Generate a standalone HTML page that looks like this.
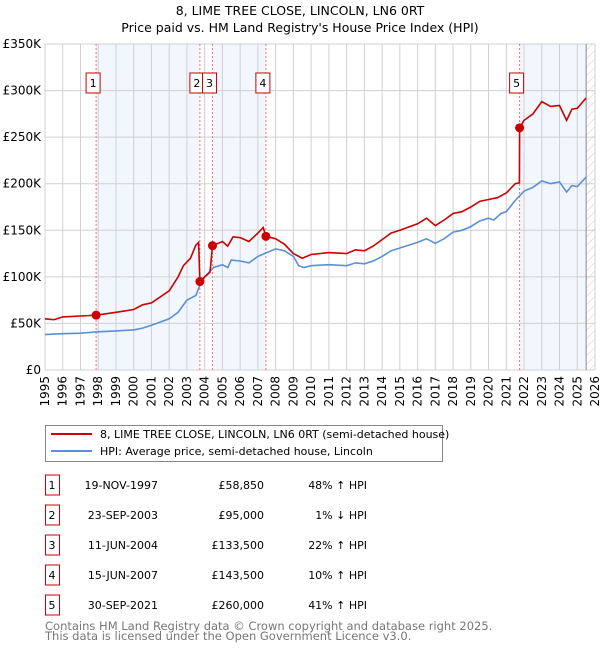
<!DOCTYPE html>
<html><head><meta charset="utf-8"><style>
body{margin:0;background:#fff;width:600px;height:650px;overflow:hidden;font-family:"DejaVu Sans","Liberation Sans",sans-serif;}
svg text{font-family:"DejaVu Sans","Liberation Sans",sans-serif;}
</style></head><body>
<svg id="chart" width="600" height="650" xmlns="http://www.w3.org/2000/svg">
<text x="300" y="15" text-anchor="middle" font-size="12.5">8, LIME TREE CLOSE, LINCOLN, LN6 0RT</text>
<text x="300" y="32" text-anchor="middle" font-size="12.5">Price paid vs. HM Land Registry's House Price Index (HPI)</text>
<g id="bands"></g>
<g id="grid"></g>
<g id="series"></g>
<g id="axes"></g>
<g id="legend">
<rect x="45.5" y="425.5" width="397" height="36" fill="#fff" stroke="#888"/>
<line x1="51" y1="434" x2="92" y2="434" stroke="#cc0000" stroke-width="2"/>
<text x="100" y="438" font-size="11">8, LIME TREE CLOSE, LINCOLN, LN6 0RT (semi-detached house)</text>
<line x1="51" y1="451" x2="92" y2="451" stroke="#5b8fd6" stroke-width="2"/>
<text x="100" y="455" font-size="11">HPI: Average price, semi-detached house, Lincoln</text>
</g>
<g id="table"></g>
<text x="45" y="630" font-size="11.5" fill="#777">Contains HM Land Registry data © Crown copyright and database right 2025.</text>
<text x="45" y="640" font-size="11.5" fill="#777">This data is licensed under the Open Government Licence v3.0.</text>
</svg>
<script>
const hpiYears=[1995,1995.5,1996,1997,1998,1999,2000,2000.5,2001,2002,2002.5,2003,2003.5,2003.8,2004,2004.5,2005,2005.3,2005.5,2006,2006.5,2007,2007.5,2008,2008.5,2009,2009.3,2009.6,2010,2011,2012,2012.5,2013,2013.5,2014,2014.5,2015,2016,2016.5,2017,2017.5,2018,2018.5,2019,2019.5,2020,2020.3,2020.7,2021,2021.5,2022,2022.5,2023,2023.5,2024,2024.4,2024.7,2025,2025.5];
const hpiValues=[38000,38500,39000,39500,41000,42000,43000,45000,48000,55000,62000,75000,80000,94000,100000,110000,113000,110000,118000,117000,115000,122000,126000,130000,128000,122000,112000,110000,112000,113000,112000,115000,114000,117000,122000,128000,131000,137000,141000,136000,141000,148000,150000,154000,160000,163000,161000,168000,170000,182000,192000,196000,203000,200000,202000,191000,198000,197000,207000];
const priceYears=[1995,1995.5,1996,1997,1997.88,1999,2000,2000.5,2001,2002,2002.5,2002.8,2003.2,2003.5,2003.66,2003.73,2004,2004.3,2004.44,2005,2005.3,2005.6,2006,2006.5,2007,2007.3,2007.45,2008,2008.5,2009,2009.5,2010,2011,2012,2012.5,2013,2013.5,2014,2014.5,2015,2016,2016.5,2017,2017.5,2018,2018.5,2019,2019.5,2020,2020.5,2021,2021.5,2021.74,2021.75,2022,2022.5,2023,2023.5,2024,2024.4,2024.7,2025,2025.5];
const priceValues=[55000,54000,57000,58000,58850,62000,65000,70000,72000,85000,100000,112000,120000,134000,137000,95000,100000,105000,133500,138000,133000,143000,142000,138000,147000,153000,143500,141000,135000,125000,120000,124000,126000,125000,129000,128000,133000,140000,147000,150000,157000,163000,155000,161000,168000,170000,175000,181000,183000,185000,190000,200000,201000,260000,268000,275000,288000,283000,284000,268000,280000,281000,292000];
const saleDates=[1997.88,2003.73,2004.44,2007.45,2021.75];
const salePrices=[58850,95000,133500,143500,260000];
const saleLabels=["1","2","3","4","5"];
const saleDateText=["19-NOV-1997","23-SEP-2003","11-JUN-2004","15-JUN-2007","30-SEP-2021"];
const salePriceText=["£58,850","£95,000","£133,500","£143,500","£260,000"];
const saleHpiText=["48% ↑ HPI","1% ↓ HPI","22% ↑ HPI","10% ↑ HPI","41% ↑ HPI"];
const yTicks=[0,50000,100000,150000,200000,250000,300000,350000];
const yTickLabels=["£0","£50K","£100K","£150K","£200K","£250K","£300K","£350K"];
const xTicks=[1995,1996,1997,1998,1999,2000,2001,2002,2003,2004,2005,2006,2007,2008,2009,2010,2011,2012,2013,2014,2015,2016,2017,2018,2019,2020,2021,2022,2023,2024,2025,2026];

const X0=45,X1=595,Y0=370,Y1=44,xMin=1995,xMax=2026,yMax=350000,dataEnd=2025.5;
const xs=v=>X0+(v-xMin)/(xMax-xMin)*(X1-X0);
const ys=v=>Y0-v/yMax*(Y0-Y1);
const NS="http://www.w3.org/2000/svg";
function mk(tag,attrs,parent){const e=document.createElementNS(NS,tag);for(const k in attrs)e.setAttribute(k,attrs[k]);parent.appendChild(e);return e;}
const grid=document.getElementById('grid'),bands=document.getElementById('bands'),series=document.getElementById('series'),axes=document.getElementById('axes'),table=document.getElementById('table');

for(let i=0;i<saleDates.length;i+=2){
  const a=saleDates[i],b=i+1<saleDates.length?saleDates[i+1]:dataEnd;
  const r=mk('rect',{x:xs(a),y:Y1,width:xs(b)-xs(a),height:Y0-Y1,fill:'#f2f6fd'},bands);
  
  
}
const defs=mk('defs',{},grid);
const pat=mk('pattern',{id:'hatch',width:6,height:6,patternUnits:'userSpaceOnUse',patternTransform:'rotate(45)'},defs);
mk('line',{x1:0,y1:0,x2:0,y2:6,stroke:'#ccc','stroke-width':1},pat);
const hr=mk('rect',{x:xs(dataEnd),y:Y1,width:X1-xs(dataEnd),height:Y0-Y1,fill:'url(#hatch)'},grid);


xTicks.forEach(t=>{const l=mk('line',{x1:xs(t),x2:xs(t),y1:Y1,y2:Y0,stroke:'#d0d0d0','stroke-width':1},grid);
 
 });
yTicks.forEach(t=>{const l=mk('line',{x1:X0,x2:X1,y1:ys(t),y2:ys(t),stroke:'#d0d0d0','stroke-width':1},grid);
 
 });
mk('line',{x1:xs(dataEnd),x2:xs(dataEnd),y1:Y1,y2:Y0,stroke:'#888','stroke-width':1},grid);
saleDates.forEach(d=>{const l=mk('line',{x1:xs(d),x2:xs(d),y1:Y1,y2:Y0,stroke:'#e87878','stroke-width':1,'stroke-dasharray':'2,2'},grid);
 
 });
function path(xv,yv){return xv.map((x,i)=>(i?'L':'M')+xs(x).toFixed(1)+','+ys(yv[i]).toFixed(1)).join(' ');}
const hp=mk('path',{d:path(hpiYears,hpiValues),fill:'none',stroke:'#5b8fd6','stroke-width':1.6},series);


const pp=mk('path',{d:path(priceYears,priceValues),fill:'none',stroke:'#cc0000','stroke-width':1.6},series);


saleDates.forEach((d,i)=>{
  const c=mk('circle',{cx:xs(d),cy:ys(salePrices[i]),r:4.5,fill:'#cc0000'},series);
  
  
  const bx=xs(d)-3;
  const r=mk('rect',{x:bx-7,y:73,width:14,height:20,fill:'#fff',stroke:'#cc0000'},series);
  
  
  const t=mk('text',{x:bx,y:87,'text-anchor':'middle','font-size':11},series);t.textContent=saleLabels[i];
  
  
});
yTicks.forEach((t,i)=>{const e=mk('text',{x:X0-4,y:ys(t)+4,'text-anchor':'end','font-size':12},axes);e.textContent=yTickLabels[i];
 
 });
xTicks.forEach(t=>{const px=xs(t)+4,py=Y0+6;const e=mk('text',{x:px,y:py,'text-anchor':'end','font-size':12,transform:`rotate(-90 ${px} ${py})`},axes);e.textContent=t;
 
 });
saleLabels.forEach((lab,i)=>{
  const cy=485+i*30;
  const g=mk('g',{},table);
  
  
  mk('rect',{x:45.5,y:cy-10,width:14,height:20,fill:'#fff',stroke:'#cc0000'},g);
  const cells=[[52,'middle',lab],[158,'end',saleDateText[i]],[264,'end',salePriceText[i]],[367,'end',saleHpiText[i]]];
  cells.forEach(c=>{const t=mk('text',{x:c[0],y:cy+4,'text-anchor':c[1],'font-size':11},g);t.textContent=c[2];});
});
</script>
</body></html>
